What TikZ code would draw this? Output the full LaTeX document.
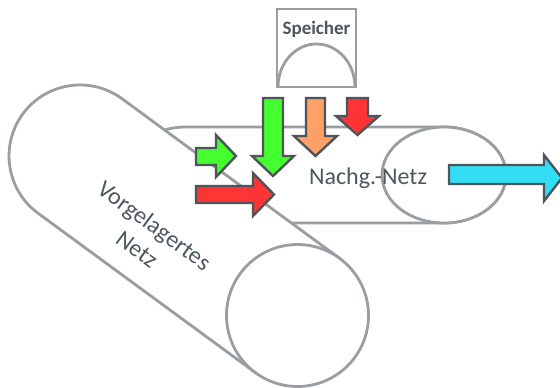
\documentclass[tikz,border=0pt]{standalone}
\usepackage{fontspec}
\setmainfont{Carlito}
\definecolor{cylgray}{HTML}{9A9EA2}
\definecolor{arrdark}{HTML}{4D555B}
\definecolor{txtgray}{HTML}{4F575E}
\definecolor{agreen}{HTML}{44FF2F}
\definecolor{aorange}{HTML}{FFA066}
\definecolor{ared}{HTML}{FF3535}
\definecolor{acyan}{HTML}{33DDF3}
\tikzset{
  cyl/.style={draw=cylgray, line width=2.8pt, fill=white},
  flow/.style={draw=arrdark, line width=2.4pt, line join=miter},
  lbl/.style={text=txtgray, inner sep=0pt, font=\fontsize{24}{29}\selectfont},
}
\begin{document}
\begin{tikzpicture}[x=1pt,y=-1pt]
\useasboundingbox[fill=white] (0,0) rectangle (560,388);
% horizontal cylinder (Nachgelagertes Netz)
\draw[cyl] (186,223) arc[start angle=90,end angle=270,x radius=62,y radius=48]
  -- (444,127) arc[start angle=270,end angle=450,x radius=62,y radius=48] -- cycle;
\draw[cyl] (444,175) ellipse[x radius=62, y radius=48];
% diagonal cylinder (Vorgelagertes Netz)
\coordinate (C1) at (80,156);
\coordinate (C2) at (297.5,315.5);
\draw[cyl] (38.0,213.2) arc[start angle=126.3,end angle=306.3,radius=71]
  -- (339.5,258.3) -- (255.5,372.7) -- cycle;
\draw[cyl] (C2) circle[radius=71];
% Speicher
\draw[cyl] (277,9) rectangle (356,87);
\draw[draw=cylgray, line width=2.8pt] (278,87) arc[start angle=180,end angle=360,x radius=38.5,y radius=43];
\node[text=txtgray, inner sep=0pt, font=\bfseries\fontsize{19}{22}\selectfont] (sp) at (316.5,29) {Speicher};
% arrows
\draw[flow, fill=agreen] (263,98) -- (283,98) -- (283,156) -- (294,156) -- (273,176) -- (252,156) -- (263,156) -- cycle;
\draw[flow, fill=aorange] (306,98) -- (325,98) -- (325,136) -- (337,136) -- (315.5,156) -- (294,136) -- (306,136) -- cycle;
\draw[flow, fill=ared] (347,98) -- (368,98) -- (368,116) -- (379,116) -- (357.5,135) -- (336,116) -- (347,116) -- cycle;
\draw[flow, fill=agreen] (196,148) -- (216,148) -- (216,135) -- (236,156) -- (216,177) -- (216,165) -- (196,165) -- cycle;
\draw[flow, fill=ared] (196,186) -- (253,186) -- (253,173) -- (274,194.5) -- (253,216) -- (253,203) -- (196,203) -- cycle;
\draw[flow, fill=acyan] (449,165) -- (544,165) -- (544,155) -- (562,178) -- (544,201) -- (544,184) -- (449,184) -- cycle;
% labels
\node[lbl] (nn) at (368,178) {Nachg.-Netz};
\node[lbl, align=center, rotate=-36.3] (vn) at (146,237) {Vorgelagertes\\Netz};
\end{tikzpicture}
\end{document}
